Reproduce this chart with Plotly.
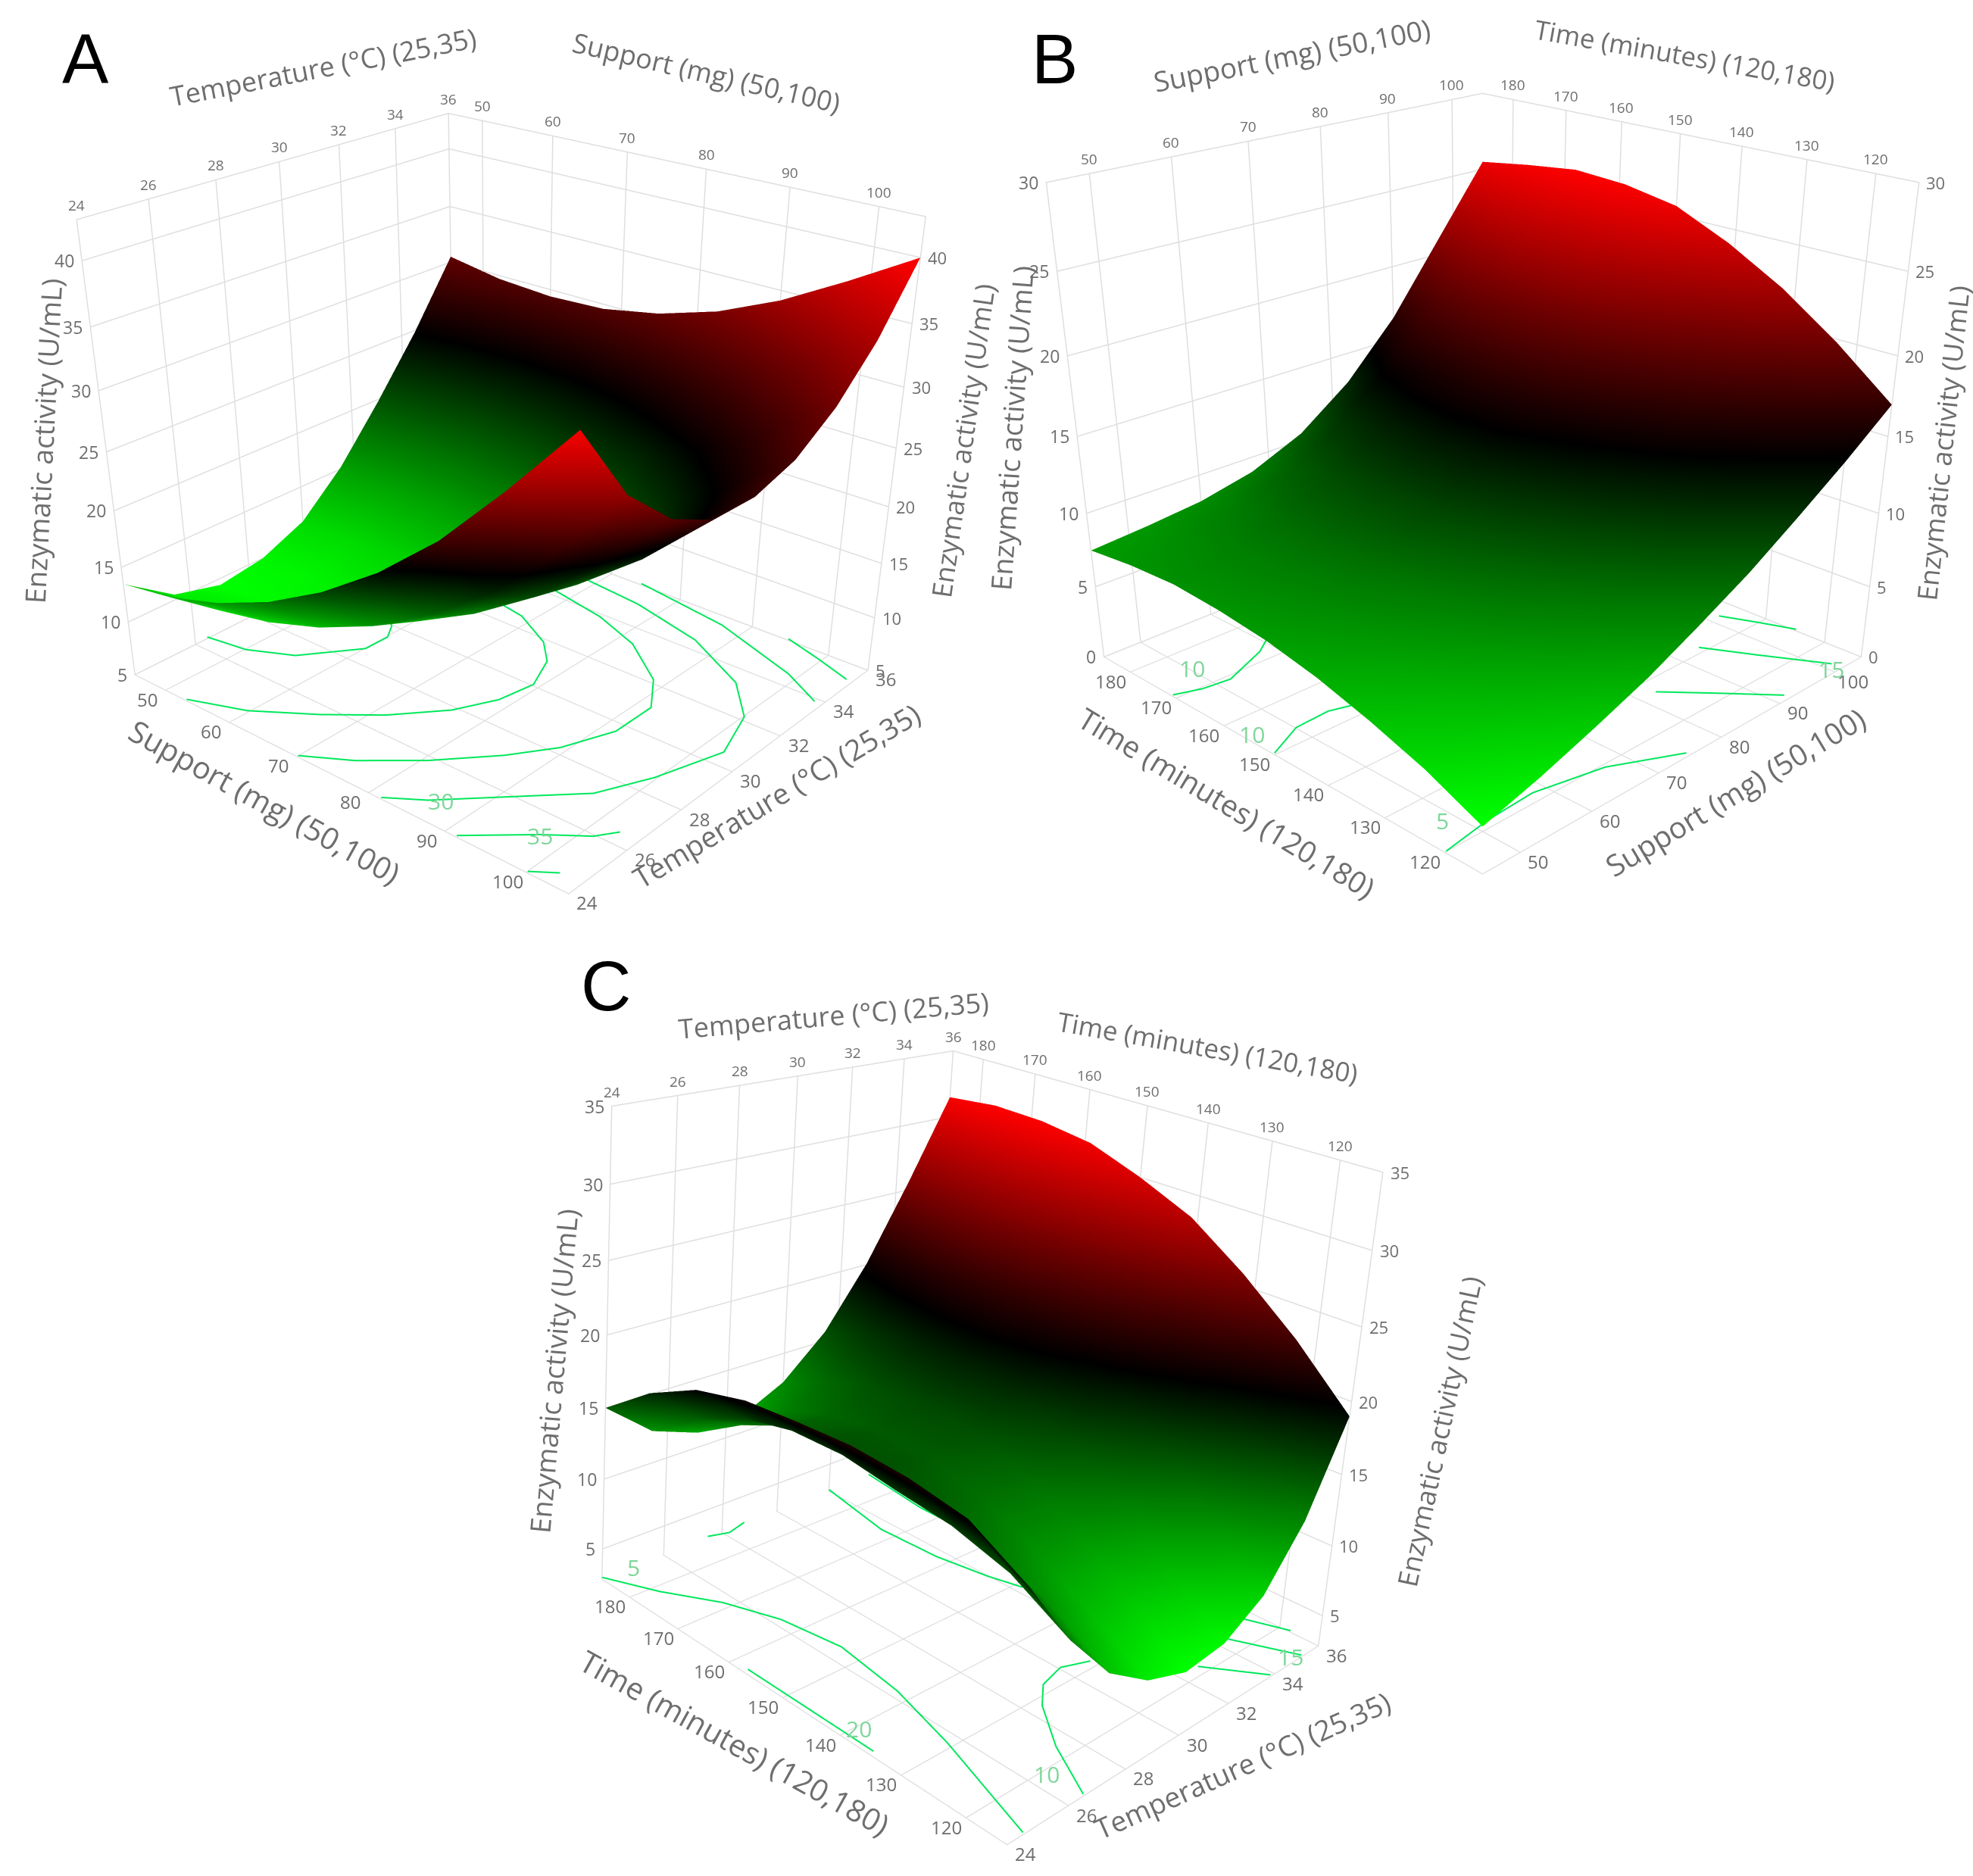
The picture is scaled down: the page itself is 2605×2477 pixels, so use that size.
import plotly.graph_objects as go

# ---------- data ----------
support_grid = [45, 52.5, 60, 67.5, 75, 82.5, 90, 97.5, 105]
temp_grid = [24, 25.5, 27, 28.5, 30, 31.5, 33, 34.5, 36]
time_grid = [114, 123, 132, 141, 150, 159, 168, 177, 186]

z_a = [
    [13.5, 14.3, 15.8, 17.9, 20.7, 24.2, 28.5, 33.8, 39.5],
    [10.5, 11.0, 12.0, 13.6, 15.8, 18.8, 22.5, 27.5, 33.5],
    [9.4, 9.7, 10.6, 12.0, 14.1, 16.8, 20.2, 24.8, 30.0],
    [10.0, 10.0, 10.7, 11.9, 13.6, 16.0, 19.2, 23.2, 28.1],
    [11.7, 11.5, 12.0, 12.9, 14.5, 16.8, 19.8, 23.7, 28.0],
    [15.2, 14.8, 15.0, 15.8, 17.1, 19.2, 22.0, 25.3, 29.1],
    [19.8, 19.3, 19.2, 19.8, 20.9, 22.6, 25.0, 28.0, 31.5],
    [24.8, 24.0, 23.7, 24.1, 25.2, 26.9, 29.1, 31.9, 35.1],
    [30.5, 29.7, 29.4, 29.6, 30.5, 32.0, 34.2, 37.0, 40.0],
]
z_b = [
    [3.0, 4.1, 5.4, 6.8, 8.5, 10.3, 12.4, 14.6, 17.0],
    [4.6, 5.7, 7.0, 8.5, 10.3, 12.4, 14.6, 17.1, 19.8],
    [5.8, 6.9, 8.3, 9.9, 11.8, 14.0, 16.5, 19.2, 22.2],
    [6.8, 7.9, 9.2, 10.9, 12.9, 15.2, 17.9, 20.8, 24.1],
    [7.5, 8.5, 9.9, 11.6, 13.7, 16.1, 18.9, 22.1, 25.6],
    [7.9, 8.8, 10.1, 11.7, 13.8, 16.4, 19.4, 22.7, 26.2],
    [8.1, 8.8, 9.9, 11.4, 13.4, 16.0, 19.2, 22.8, 26.4],
    [7.9, 8.4, 9.2, 10.5, 12.5, 15.2, 18.5, 22.3, 26.0],
    [7.5, 7.8, 8.2, 9.0, 10.5, 13.0, 16.5, 21.0, 25.5],
]
z_c = [
    [18.0, 13.5, 10.0, 8.0, 7.0, 7.4, 9.2, 13.0, 19.0],
    [20.0, 15.5, 12.2, 10.3, 9.8, 10.5, 12.8, 17.0, 22.7],
    [20.6, 16.5, 13.7, 12.4, 12.4, 13.7, 16.3, 20.6, 25.8],
    [20.8, 16.9, 14.9, 14.1, 14.4, 16.0, 19.0, 23.2, 28.4],
    [20.6, 17.4, 15.6, 15.1, 15.7, 17.6, 20.6, 24.9, 30.0],
    [20.3, 17.3, 15.6, 15.2, 16.0, 18.1, 21.4, 26.0, 31.3],
    [19.4, 16.5, 14.9, 14.6, 15.6, 17.9, 21.6, 26.5, 31.8],
    [17.6, 14.8, 13.3, 13.3, 14.5, 17.1, 21.1, 26.3, 31.9],
    [15.0, 12.3, 11.1, 11.2, 12.8, 15.7, 20.1, 25.6, 31.5],
]

# floor contour lines: [first axis values], [second axis values]
contours_a = [
    ([45.0, 50.4, 55.5, 60.3, 60.4, 59.0, 56.1, 53.0, 49.0], [26.4, 26.6, 27.2, 28.6, 29.4, 29.9, 30.4, 30.6, 30.7]),
    ([53.4, 60.0, 66.3, 71.6, 76.2, 78.6, 79.4, 77.4, 74.4, 68.7, 61.5, 58.5], [24.0, 24.6, 25.6, 26.6, 27.8, 28.9, 30.0, 31.1, 31.8, 32.5, 32.8, 32.9]),
    ([70.2, 75.2, 80.8, 86.0, 89.4, 91.8, 91.8, 88.6, 82.2, 75.6, 67.2, 60.0], [24.0, 24.7, 25.8, 27.1, 28.2, 29.6, 31.0, 32.1, 33.2, 33.8, 34.2, 34.3]),
    ([81.7, 85.5, 93.0, 97.0, 99.9, 102.5, 100.3, 95.7, 87.0, 77.1, 69.6, 62.4], [24.0, 24.6, 26.3, 27.2, 28.6, 30.5, 32.1, 33.3, 34.4, 35.0, 35.2, 35.4]),
    ([91.5, 97.4, 101.4, 102.9], [24.0, 25.2, 25.9, 26.4]),
    ([104.2, 99.0, 87.3, 74.4], [33.8, 34.5, 35.5, 36.0]),
    ([100.2, 102.6], [24.0, 24.4]),
    ([104.4, 99.9, 94.8], [35.2, 35.6, 36.0]),
]
contours_b = [
    ([45.0, 48.1, 51.6, 57.9, 65.5, 72.4], [170.6, 169.2, 168.7, 172.0, 178.6, 186.0]),
    ([45.0, 49.9, 54.5, 59.2, 62.8], [150.0, 152.9, 153.2, 151.4, 148.6]),
    ([82.3, 87.0, 91.5], [127.0, 120.8, 114.7]),
    ([93.6, 96.8, 101.0], [130.9, 124.0, 115.4]),
    ([101.4, 103.3, 105.0], [134.9, 129.8, 124.8]),
    ([45.0, 51.6, 58.1, 66.8, 74.7], [119.8, 121.0, 121.4, 119.2, 114.4]),
]
contours_c = [
    ([24.0, 24.7, 25.6, 26.2, 26.5, 26.2, 25.6, 24.5], [186.0, 178.4, 171.0, 163.1, 153.4, 141.9, 130.6, 114.0]),
    ([24.1, 24.1, 24.1, 24.1], [157.0, 148.0, 141.0, 135.0]),
    ([26.5, 27.4, 28.4, 29.1, 30.0, 30.8], [114.0, 121.9, 128.4, 131.3, 132.4, 130.9]),
    ([32.7, 33.8], [121.2, 114.0]),
    ([34.3, 35.2], [123.2, 114.0]),
    ([35.4, 36.0], [125.5, 118.3]),
    ([32.0, 31.5, 31.6, 31.9, 32.2], [186.0, 172.3, 161.9, 153.8, 148.6]),
    ([33.6, 33.3, 33.3], [186.0, 173.5, 165.8]),
    ([27.5, 28.1, 28.8], [186.0, 185.0, 186.0]),
]
contour_labels_a = [("30", 86.4, 24.8), ("35", 97.4, 25.2)]
contour_labels_b = [("10", 50.4, 175.0), ("10", 46.0, 155.8), ("5", 48.6, 124.8), ("15", 100.2, 114.7)]
contour_labels_c = [("5", 25.0, 186.0), ("20", 24.5, 139.5), ("10", 26.5, 119.4), ("15", 35.0, 115.0)]

support_ticks = [50, 60, 70, 80, 90, 100]
temp_ticks = [24, 26, 28, 30, 32, 34, 36]
time_ticks = [120, 130, 140, 150, 160, 170, 180]
z_ticks_a = [5, 10, 15, 20, 25, 30, 35, 40]
z_ticks_b = [0, 5, 10, 15, 20, 25, 30]
z_ticks_c = [5, 10, 15, 20, 25, 30, 35]

ENZ = "Enzymatic activity (U/mL)"
SUP = "Support (mg) (50,100)"
TMP = "Temperature (°C) (25,35)"
TIM = "Time (minutes) (120,180)"

# ---------- styles ----------
W, H = 2605, 2477
FONT = "Open Sans"
GRAY = "#6e6e6e"
GRID = "#dedede"
GREEN = "#00e85c"
SCALE = [[0, "#00ff00"], [0.5, "#000000"], [1, "#ff0000"]]


def axis(rng, dtick, tick0):
    return dict(range=rng, dtick=dtick, tick0=tick0, tickmode="linear", title=dict(text=""),
                showticklabels=False, ticks="", showgrid=True, gridcolor=GRID, gridwidth=3,
                showline=True, linecolor=GRID, linewidth=3, mirror=True, zeroline=False,
                showbackground=False, showspikes=False)


def txt(x, y, z, text, size, angle=0, xanchor="center", yanchor="middle", xs=0, ys=0, color=GRAY):
    return dict(x=x, y=y, z=z, text=text, showarrow=False, textangle=angle, xanchor=xanchor, yanchor=yanchor,
                xshift=xs, yshift=ys, font=dict(family=FONT, size=size, color=color))


fig = go.Figure()


def panel(name, xv, yv, zv, xr, yr, zr, contours, labels, ann, dom_x, dom_y, eye, center, up, aspect, xd, yd):
    fig.add_trace(go.Surface(x=xv, y=yv, z=zv, colorscale=SCALE, showscale=False, scene=name, hoverinfo="skip",
                             lighting=dict(ambient=1, diffuse=0, specular=0, roughness=1, fresnel=0)))
    lift = (zr[1] - zr[0]) * 0.004
    for cx, cy in contours:
        fig.add_trace(go.Scatter3d(x=cx, y=cy, z=[zr[0] + lift] * len(cx), mode="lines", scene=name, showlegend=False,
                                   hoverinfo="skip", line=dict(color=GREEN, width=4)))
    for t, lx, ly in labels:
        ann.append(txt(lx, ly, zr[0], t, 30, color="#7fd69a"))
    fig.update_layout({name: dict(
        domain=dict(x=dom_x, y=dom_y), aspectmode="manual",
        aspectratio=dict(x=aspect[0], y=aspect[1], z=aspect[2]),
        camera=dict(eye=dict(x=eye[0], y=eye[1], z=eye[2]), center=dict(x=center[0], y=center[1], z=center[2]),
                    up=dict(x=up[0], y=up[1], z=up[2])),
        xaxis=axis(xr, xd[0], xd[1]), yaxis=axis(yr, yd[0], yd[1]), zaxis=axis(zr, 5, 0),
        annotations=ann, bgcolor="rgba(0,0,0,0)")})


# Panel A
ar = [5, 43]
ann_a = []
for v in support_ticks:
    ann_a.append(txt(v, 24, ar[0], str(v), 24, xs=-24, ys=-12))
    ann_a.append(txt(v, 36, ar[1], str(v), 19, yanchor="bottom", ys=4))
for v in temp_ticks:
    ann_a.append(txt(105, v, ar[0], str(v), 24, xs=24, ys=-12))
    ann_a.append(txt(45, v, ar[1], str(v), 19, yanchor="bottom", ys=4))
for v in z_ticks_a:
    ann_a.append(txt(45, 24, v, str(v), 23, xanchor="right", xs=-8))
    ann_a.append(txt(105, 36, v, str(v), 22, xanchor="left", xs=8))
panel("scene", support_grid, temp_grid, z_a, [45, 105], [24, 36], ar, contours_a, contour_labels_a, ann_a,
      [0.0245, 0.4845], [0.2, 1.0], (1.955, -2.304, 1.342), (0, 0, -0.62), (-0.015, -0.013, 1), (1.07, 0.93, 0.88), (10, 50), (2, 24))

# Panel B
br = [0, 30]
ann_b = []
for v in support_ticks:
    ann_b.append(txt(v, 114, br[0], str(v), 24, xs=24, ys=-12))
    ann_b.append(txt(v, 186, br[1], str(v), 19, yanchor="bottom", ys=4))
for v in time_ticks:
    ann_b.append(txt(45, v, br[0], str(v), 24, xs=-26, ys=-12))
    ann_b.append(txt(105, v, br[1], str(v), 19, yanchor="bottom", ys=4))
for v in z_ticks_b:
    ann_b.append(txt(45, 186, v, str(v), 23, xanchor="right", xs=-8))
    ann_b.append(txt(105, 114, v, str(v), 22, xanchor="left", xs=8))
panel("scene2", support_grid, time_grid, z_b, [45, 105], [114, 186], br, contours_b, contour_labels_b, ann_b,
      [0.5078, 0.9948], [0.2, 1.0], (-2.115, -2.115, 1.158), (0, 0, -0.639), (-0.018, 0.018, 1), (1, 1, 0.87), (10, 50), (10, 120))

# Panel C
cr = [2.8, 35]
ann_c = []
for v in temp_ticks:
    ann_c.append(txt(v, 114, cr[0], str(v), 24, xs=24, ys=-12))
    ann_c.append(txt(v, 186, cr[1], str(v), 19, yanchor="bottom", ys=4))
for v in time_ticks:
    ann_c.append(txt(24, v, cr[0], str(v), 24, xs=-26, ys=-12))
    ann_c.append(txt(36, v, cr[1], str(v), 19, yanchor="bottom", ys=4))
for v in z_ticks_c:
    ann_c.append(txt(24, 186, v, str(v), 23, xanchor="right", xs=-8))
    ann_c.append(txt(36, 114, v, str(v), 22, xanchor="left", xs=8))
panel("scene3", temp_grid, time_grid, z_c, [24, 36], [114, 186], cr, contours_c, contour_labels_c, ann_c,
      [0.2738, 0.7358], [0.0, 0.8], (-2.419, -2.142, 1.382), (0, 0, 0.516), (-0.05, 0.056, 1), (0.917, 1.10, 0.98), (2, 24), (10, 120))


# ---------- titles and panel letters, placed on the page (pixel centre in the full-size picture) ----------
def page(px, py, text, size, angle=0, family=FONT, color=GRAY):
    return dict(x=px / W, y=1 - py / H, xref="paper", yref="paper", text=text, showarrow=False, textangle=angle,
                xanchor="center", yanchor="middle", font=dict(family=family, size=size, color=color))


annotations = [
    page(113, 78, "A", 92, family="Liberation Sans", color="black"),
    page(1392, 78, "B", 92, family="Liberation Sans", color="black"),
    page(800, 1302, "C", 92, family="Liberation Sans", color="black"),
    page(426, 88, TMP, 36, -11), page(932, 96, SUP, 36, 13),
    page(350, 1058, SUP, 40, 29), page(1025, 1050, TMP, 38, -31),
    page(57, 582, ENZ, 37, -87), page(1272, 582, ENZ, 36, -82),
    page(1705, 72, SUP, 37, -11), page(2225, 72, TIM, 35, 10),
    page(1620, 1060, TIM, 39, 31), page(2290, 1045, SUP, 39, -31),
    page(1335, 565, ENZ, 37, -86), page(2565, 585, ENZ, 36, -84),
    page(1100, 1340, TMP, 36, -5), page(1595, 1382, TIM, 35, 10),
    page(970, 2300, TIM, 40, 29), page(1640, 2330, TMP, 37, -24),
    page(730, 1810, ENZ, 37, -85), page(1900, 1890, ENZ, 36, -78),
]

fig.update_layout(width=W, height=H, margin=dict(l=0, r=0, t=0, b=0), paper_bgcolor="white",
                  showlegend=False, annotations=annotations, font=dict(family=FONT))
fig.write_html("out.html", post_script="document.body.style.margin='0';", config=dict(displayModeBar=False))
